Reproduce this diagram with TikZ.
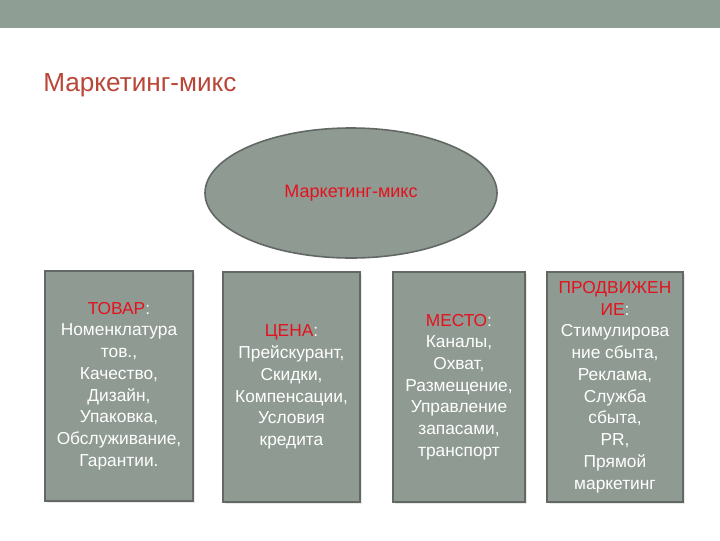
\documentclass[tikz,border=0pt]{standalone}
\usepackage{fontspec}
\setmainfont{Liberation Sans}
\usetikzlibrary{shapes.geometric,shadows}
\definecolor{bandgray}{RGB}{143,158,148}
\definecolor{boxgray}{RGB}{142,154,146}
\definecolor{edgegray}{RGB}{98,104,100}
\definecolor{titlered}{RGB}{185,70,55}
\definecolor{headred}{RGB}{228,18,30}
\newcommand{\mixhead}[1]{\textcolor{headred}{#1}}

\begin{document}
\begin{tikzpicture}[x=0.75pt,y=-0.75pt,
    mixbox/.style={draw=edgegray,line width=1.2pt,fill=boxgray,
      minimum height=172.5pt,inner sep=2pt,align=center,text=white,
      font=\fontsize{13}{16.3}\selectfont,
      drop shadow={opacity=0.18,shadow xshift=1.2pt,shadow yshift=-1.2pt}},
    mixoval/.style={ellipse,draw=edgegray,line width=1.2pt,fill=boxgray,
      minimum width=219pt,minimum height=97.5pt,inner sep=0pt,
      text=headred,font=\fontsize{13.5}{16}\selectfont}]
      %page size and the grey band at the top
    \useasboundingbox (0,0) rectangle (720,540);
    \fill[white] (0,0) rectangle (720,540);
    \fill[bandgray] (0,0) rectangle (720,28);
      %title and the central oval
    \node[anchor=base west,inner sep=0pt,text=titlered,
      font=\fontsize{19.6}{22}\selectfont] (title) at (43,91) {Маркетинг-микс};
    \node[mixoval] (mix) at (351,193) {Маркетинг-микс};
      %the four P's
    \node[mixbox,minimum width=111pt] (tovar) at (119,386)
      {\mixhead{ТОВАР}:\\Номенклатура\\тов.,\\Качество,\\Дизайн,\\Упаковка,\\Обслуживание,\\Гарантии.};
    \node[mixbox,minimum width=102.75pt] (cena) at (291.5,387)
      {\mixhead{ЦЕНА}:\\Прейскурант,\\Скидки,\\Компенсации,\\Условия\\кредита};
    \node[mixbox,minimum width=99pt] (mesto) at (459,387)
      {\mixhead{МЕСТО}:\\Каналы,\\Охват,\\Размещение,\\Управление\\запасами,\\транспорт};
    \node[mixbox,minimum width=102pt] (prodv) at (615,387)
      {\mixhead{ПРОДВИЖЕН}\\\mixhead{ИЕ}:\\Стимулирова\\ние сбыта,\\Реклама,\\Служба\\сбыта,\\PR,\\Прямой\\маркетинг};
\end{tikzpicture}
\end{document}
